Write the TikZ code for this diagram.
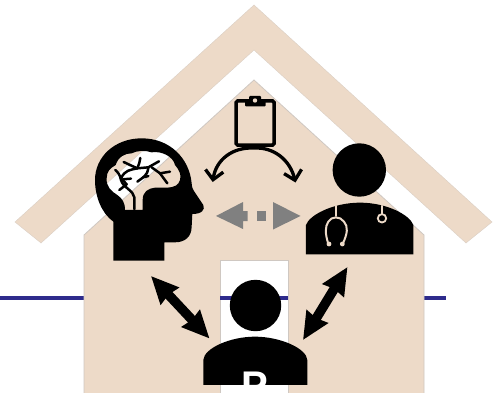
\documentclass[tikz,border=0pt]{standalone}
\usepackage{fontspec}
\setmainfont{Liberation Sans}
\usetikzlibrary{arrows.meta}
\definecolor{tan}{HTML}{EDDAC8}
\definecolor{navy}{HTML}{2E2B8C}
\definecolor{edge}{HTML}{CFC8C2}
\tikzset{
 x=1pt,y=-1pt,
 icon/.style={fill=black,draw=none},
 zoomA/.style={shift={(80,90)},x=0.3333pt,y=-0.3333pt},
 zoomB/.style={shift={(200,90)},x=0.3333pt,y=-0.3333pt},
 zoomC/.style={shift={(130,250)},x=0.3333pt,y=-0.3333pt},
 vein/.style={draw=black,line width=2.5pt,line cap=round,line join=round},
 steth/.style={draw=tan,line width=2pt,line cap=round},
 biarrow/.style={{Stealth[length=27pt,width=24pt,inset=1.5pt]}-{Stealth[length=27pt,width=24pt,inset=1.5pt]},line width=9.5pt,black},
 curved/.style={-{Straight Barb[length=9pt,width=18pt,line width=3.3pt]},line width=3.3pt,black},
 grayarrow/.style={fill=gray,draw=none}
}
\begin{document}
\begin{tikzpicture}
\useasboundingbox (0,0) rectangle (500,393);
\fill[white] (0,0) rectangle (500,393);
% ground line
\coordinate (lineL) at (0,298);
\coordinate (lineR) at (446,298);
\draw[navy,line width=4pt] (lineL) -- (lineR);
% roof
\path[fill=tan,draw=edge!60!tan,line width=0.4pt] (254,5) -- (492,222) -- (466,243) -- (254,50) -- (41,243) -- (15,222) -- cycle;
% house
\path[fill=tan,draw=edge,line width=0.8pt] (84,394) -- (84,235) -- (254,80) -- (424,235) -- (424,394) -- cycle;
% door
\path[fill=white,draw=edge,line width=0.8pt] (220,394) -- (220,260) -- (288,260) -- (288,394) -- cycle;
\clip (0,0) rectangle (500,393);
\fill[navy] (220,296) rectangle (288,300);
% brain head
\begin{scope}[zoomA]
\path[icon,even odd rule]
 (100,512) -- (100,395) .. controls (65,370) and (45,320) .. (45,270)
 .. controls (45,200) and (105,145) .. (185,145)
 .. controls (270,145) and (328,205) .. (335,280)
 .. controls (336,292) and (338,297) .. (342,303)
 -- (370,345) .. controls (376,360) and (365,372) .. (337,372)
 -- (335,410) .. controls (335,440) and (315,457) .. (285,457)
 -- (253,457) -- (253,512) -- cycle
 (135,360) .. controls (135,335) and (125,325) .. (112,315)
 .. controls (95,305) and (78,290) .. (80,265)
 .. controls (80,245) and (90,235) .. (107,225)
 .. controls (115,200) and (135,190) .. (155,190)
 .. controls (170,182) and (195,180) .. (215,187)
 .. controls (245,182) and (280,200) .. (285,225)
 .. controls (298,240) and (305,255) .. (300,270)
 .. controls (296,285) and (285,292) .. (260,293)
 -- (225,293) .. controls (205,295) and (188,305) .. (188,330)
 -- (188,360) -- cycle;
\draw[vein] (163,358) -- (163,322) .. controls (160,300) and (130,295) .. (123,270) .. controls (120,255) and (115,248) .. (106,240);
\draw[vein] (123,265) .. controls (135,240) and (150,240) .. (172,235) .. controls (178,225) and (178,215) .. (181,204);
\draw[vein] (131,216) -- (150,225) -- (172,235);
\draw[vein] (172,235) -- (205,232) -- (237,214);
\draw[vein] (215,232) -- (240,250) -- (270,245);
\draw[vein] (240,250) -- (262,280);
\draw[vein] (205,235) .. controls (203,255) and (190,262) .. (172,275);
\draw[vein] (205,258) -- (190,262);
\draw[vein] (118,300) -- (140,283) -- (128,270);
\draw[vein] (128,268) -- (153,266);
\end{scope}
% clipboard
\path[draw=black,line width=3.5pt,rounded corners=1.5pt] (236,101) rectangle (274.2,145);
\path[icon,rounded corners=1pt] (245,106.5) -- (245,100) -- (249,100) -- (249,96) -- (261,96) -- (261,100) -- (265.5,100) -- (265.5,106.5) -- cycle;
\fill[tan] (255,100.5) circle (2.2pt);
% curved arrows
\coordinate (clipB) at (254,148);
\coordinate (brainT) at (212.7,182);
\coordinate (docT) at (295.5,182.5);
\draw[curved] (clipB) .. controls (232,147) and (216,160) .. (brainT);
\draw[curved] (clipB) .. controls (274,147) and (290,160) .. (docT);
% gray arrows
\path[grayarrow] (216,216) -- (243,202) -- (243,211) -- (247.5,211) -- (247.5,221) -- (243,221) -- (243,229) -- cycle;
\fill[gray] (257,211) rectangle (266,220.5);
\path[grayarrow] (273,202) -- (300.5,216) -- (273,229.5) -- cycle;
% doctor
\fill[black] (359.3,170) circle (26.7pt);
\begin{scope}[zoomB]
\path[icon] (318,493) -- (318,405) .. controls (328,375) and (400,338) .. (480,338) .. controls (560,338) and (630,375) .. (640,405) -- (640,493) -- cycle;
\draw[steth] (407,348) -- (407,378);
\draw[steth] (385,462) .. controls (375,430) and (375,410) .. (385,395) .. controls (395,378) and (420,378) .. (432,395) .. controls (445,410) and (443,430) .. (428,462);
\fill[tan] (387,462) circle (2.4pt) (427,462) circle (2.4pt);
\draw[steth] (545,348) -- (545,372);
\draw[steth,line width=1.8pt] (546,385) circle (4.2pt);
\end{scope}
% patient
\fill[black] (255.5,305.5) circle (25.7pt);
\begin{scope}[zoomC]
\path[icon] (220,405) -- (220,330) .. controls (222,295) and (300,260) .. (375,260) .. controls (450,260) and (530,295) .. (532,330) -- (532,405) -- cycle;
\clip (200,250) rectangle (560,405);
\node[white,font=\bfseries\fontsize{40}{40}\selectfont,inner sep=0pt,anchor=base] (ptext) at (376,450) {P};
\end{scope}
% double arrows
\coordinate (a1) at (151,276);
\coordinate (a2) at (209.5,338.5);
\coordinate (b1) at (347.5,267);
\coordinate (b2) at (303,340);
\draw[biarrow] (a1) -- (a2);
\draw[biarrow] (b1) -- (b2);
\end{tikzpicture}
\end{document}
